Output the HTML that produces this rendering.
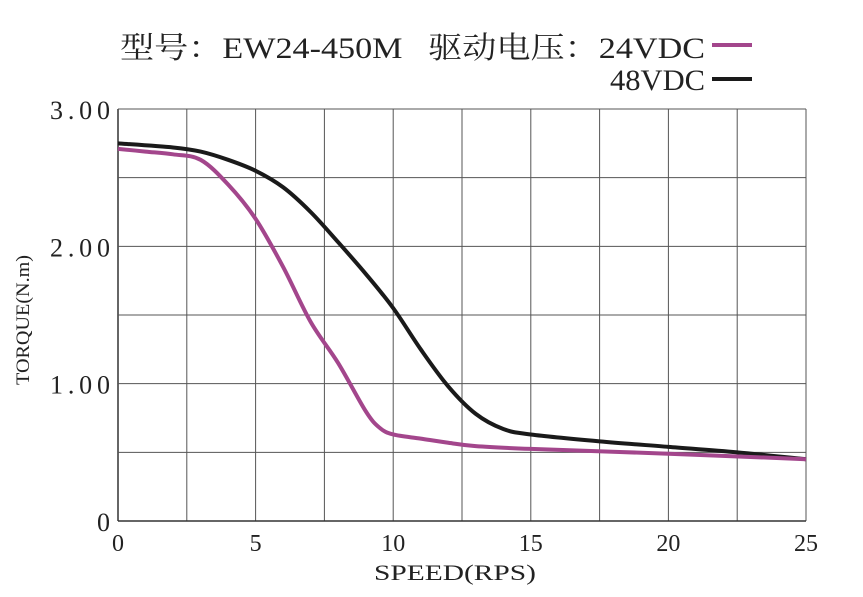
<!DOCTYPE html>
<html><head><meta charset="utf-8"><style>
body{margin:0;background:#fff}
svg{display:block}
text{font-family:"Liberation Serif","Noto Serif CJK SC",serif;fill:#222;white-space:pre}
</style></head><body>
<svg id="chart" width="863" height="597" viewBox="0 0 863 597">
<text x="120" y="58" font-size="30" xml:space="preserve" textLength="585" lengthAdjust="spacingAndGlyphs">型号：EW24-450M   驱动电压：24VDC</text>
<line x1="712" y1="45" x2="752" y2="45" stroke="#a3468c" stroke-width="4"/>
<text x="610" y="90" font-size="30" textLength="95" lengthAdjust="spacingAndGlyphs">48VDC</text>
<line x1="712" y1="79" x2="752" y2="79" stroke="#1a1a1a" stroke-width="4"/>
<g id="grid"></g><g id="series"></g><g id="labels"></g>
<text x="455" y="580" font-size="22" text-anchor="middle" textLength="162" lengthAdjust="spacingAndGlyphs">SPEED(RPS)</text>
<text transform="translate(29,320) rotate(-90)" font-size="19" text-anchor="middle" textLength="130" lengthAdjust="spacingAndGlyphs">TORQUE(N.m)</text>
</svg>
<script>
const xTicks=[0,5,10,15,20,25];
const yTicks=[0,1,2,3];
const yTickLabels=["0","1.00","2.00","3.00"];
const speed24=[0,1,2,3,4,5,6,7,8,9,9.5,10,11,12,13,15,20,25];
const torque24=[2.71,2.69,2.67,2.63,2.45,2.2,1.85,1.45,1.15,0.8,0.68,0.63,0.6,0.57,0.545,0.525,0.49,0.45];
const speed48=[0,2,3,4,5,6,7,8,9,10,11,12,13,14,15,17.5,20,22.5,25];
const torque48=[2.75,2.72,2.69,2.63,2.55,2.43,2.25,2.03,1.8,1.55,1.25,0.98,0.78,0.67,0.63,0.58,0.54,0.5,0.45];
const X0=118,X1=806,Y0=521,Y1=109;
const sx=v=>X0+(X1-X0)*v/25, sy=v=>Y0-(Y0-Y1)*v/3;
const NS="http://www.w3.org/2000/svg";
function mk(tag,attrs,parent){const e=document.createElementNS(NS,tag);for(const k in attrs)e.setAttribute(k,attrs[k]);parent.appendChild(e);return e;}
const grid=document.getElementById('grid'),ser=document.getElementById('series'),lab=document.getElementById('labels');
for(let i=0;i<=10;i++){const l=mk('line',{x1:sx(i*2.5),x2:sx(i*2.5),y1:Y1,y2:Y0,stroke:i==0?'#333':'#555','stroke-width':i==0?1.5:1},grid);

}
for(let i=0;i<=6;i++){const l=mk('line',{x1:X0,x2:X1,y1:sy(i*0.5),y2:sy(i*0.5),stroke:i==0?'#333':'#555','stroke-width':i==0?1.5:1},grid);

}
xTicks.forEach(v=>{const t=mk('text',{x:sx(v),y:551,'font-size':24,'text-anchor':'middle'},lab);t.textContent=v;

});
yTicks.forEach((v,i)=>{const a={x:110,y:sy(v)+10,'font-size':26,'text-anchor':'end'};
if(yTickLabels[i].length>1){a.textLength=60;a.lengthAdjust='spacing';}
const t=mk('text',a,lab);t.textContent=yTickLabels[i];

});
function smooth(xs,ys){const p=xs.map((x,i)=>[sx(x),sy(ys[i])]);let d='M'+p[0][0]+','+p[0][1];
for(let i=0;i<p.length-1;i++){const a=p[Math.max(0,i-1)],b=p[i],c=p[i+1],e=p[Math.min(p.length-1,i+2)];
d+=' C'+(b[0]+(c[0]-a[0])/6)+','+(b[1]+(c[1]-a[1])/6)+' '+(c[0]-(e[0]-b[0])/6)+','+(c[1]-(e[1]-b[1])/6)+' '+c[0]+','+c[1];}return d;}
const p48=mk('path',{d:smooth(speed48,torque48),fill:'none',stroke:'#1a1a1a','stroke-width':4},ser);


const p24=mk('path',{d:smooth(speed24,torque24),fill:'none',stroke:'#a3468c','stroke-width':4},ser);


</script>
</body></html>
